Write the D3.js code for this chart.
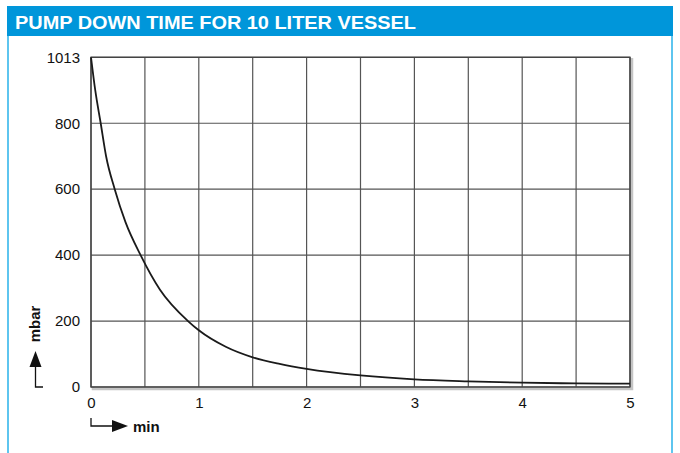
<!DOCTYPE html>
<html>
<head>
<meta charset="utf-8">
<script src="https://cdn.jsdelivr.net/npm/d3@7"></script>
<style>
  html, body { margin: 0; padding: 0; background: #ffffff; }
  svg { display: block; }
  text { font-family: "Liberation Sans", Arial, Helvetica, sans-serif; }
</style>
</head>
<body>
<svg id="chart" width="680" height="453"></svg>
<script>
// ---- data ----
const title = "PUMP DOWN TIME FOR 10 LITER VESSEL";
const timeMin = [0, 0.04, 0.09, 0.14, 0.22, 0.32, 0.46, 0.64, 0.9, 1.0, 1.25, 1.5, 1.75, 2.0, 2.5, 3.0, 3.5, 4.0, 4.5, 5.0];
const pressureMbar = [1013, 905, 800, 700, 600, 500, 400, 295, 200, 172, 122, 90, 70, 55, 35, 23, 17, 13, 11, 10];
const xTickValues = [0, 1, 2, 3, 4, 5];
const xGridValues = [0, 0.5, 1, 1.5, 2, 2.5, 3, 3.5, 4, 4.5, 5];
const yTickValues = [0, 200, 400, 600, 800, 1013];
const xLabel = "min";
const yLabel = "mbar";

// ---- layout ----
(function () {
const svg = d3.select("#chart");
const W = 680, H = 453;
const pL = 91, pR = 630, pT = 57.3, pB = 387;

// box frame
svg.append("rect").attr("x", 7).attr("y", 6).attr("width", 666).attr("height", 30).attr("fill", "#0096da");
svg.append("line").attr("x1", 8).attr("x2", 8).attr("y1", 36).attr("y2", H).attr("stroke", "#5ec5ef").attr("stroke-width", 2);
svg.append("line").attr("x1", 672).attr("x2", 672).attr("y1", 36).attr("y2", H).attr("stroke", "#5ec5ef").attr("stroke-width", 2);
svg.append("text").attr("x", 15).attr("y", 28.5).attr("fill", "#ffffff")
  .attr("font-size", 19).attr("font-weight", "bold")
  .attr("textLength", 401).attr("lengthAdjust", "spacingAndGlyphs").text(title);

// scales
const x = d3.scaleLinear().domain([0, 5]).range([pL, pR]);
const y = d3.scaleLinear().domain([0, 800, 1013]).range([pB, pB - 800 * 0.3297, pT]);

const g = svg.append("g");

// shadow
g.append("rect").attr("x", pL + 2).attr("y", pT + 2).attr("width", pR - pL).attr("height", pB - pT)
  .attr("fill", "none").attr("stroke", "#c4c4c4").attr("stroke-width", 2.5);
g.append("rect").attr("x", pL).attr("y", pT).attr("width", pR - pL).attr("height", pB - pT)
  .attr("fill", "#ffffff");

// grid
g.selectAll("line.vg").data(xGridValues).enter().append("line")
  .attr("x1", d => x(d)).attr("x2", d => x(d)).attr("y1", pT).attr("y2", pB)
  .attr("stroke", "#555").attr("stroke-width", 1.2);
g.selectAll("line.hg").data(yTickValues).enter().append("line")
  .attr("x1", pL).attr("x2", pR).attr("y1", d => y(d)).attr("y2", d => y(d))
  .attr("stroke", "#555").attr("stroke-width", 1.2);

// frame
g.append("rect").attr("x", pL).attr("y", pT).attr("width", pR - pL).attr("height", pB - pT)
  .attr("fill", "none").attr("stroke", "#444").attr("stroke-width", 1.4);

// axes (labels only)
const xAxis = d3.axisBottom(x).tickValues(xTickValues).tickSize(0).tickPadding(10).tickFormat(d3.format("d"));
const yAxis = d3.axisLeft(y).tickValues(yTickValues).tickSize(0).tickPadding(11).tickFormat(d3.format("d"));
const gx = svg.append("g").attr("transform", `translate(0,${pB})`).call(xAxis);
const gy = svg.append("g").attr("transform", `translate(${pL},0)`).call(yAxis);
[gx, gy].forEach(a => {
  a.attr("font-size", 15);
  a.select(".domain").remove();
  a.selectAll("text").attr("font-size", 15).attr("fill", "#111")
    .attr("font-family", "'Liberation Sans', Arial, sans-serif");
});

// curve
const line = d3.line().x((d, i) => x(timeMin[i])).y(d => y(d)).curve(d3.curveMonotoneX);
g.append("path").datum(pressureMbar).attr("d", line)
  .attr("fill", "none").attr("stroke", "#1a1a1a").attr("stroke-width", 1.8);

// y-axis label with arrow
const ya = svg.append("g");
ya.append("path").attr("d", "M43,387 L35.5,387 L35.5,366").attr("fill", "none").attr("stroke", "#111").attr("stroke-width", 1.3);
ya.append("path").attr("d", "M35.5,351 L29.5,367 L41.5,367 Z").attr("fill", "#111");
ya.append("text").attr("transform", "translate(40,324) rotate(-90)").attr("text-anchor", "middle")
  .attr("font-size", 15).attr("font-weight", "bold").attr("fill", "#111").text(yLabel);

// x-axis label with arrow
const xa = svg.append("g");
xa.append("path").attr("d", "M91,418 L91,426 L113,426").attr("fill", "none").attr("stroke", "#111").attr("stroke-width", 1.3);
xa.append("path").attr("d", "M128,426 L112,420 L112,432 Z").attr("fill", "#111");
xa.append("text").attr("x", 133).attr("y", 432).attr("font-size", 15).attr("font-weight", "bold").attr("fill", "#111").text(xLabel);
})();
</script>
</body>
</html>
